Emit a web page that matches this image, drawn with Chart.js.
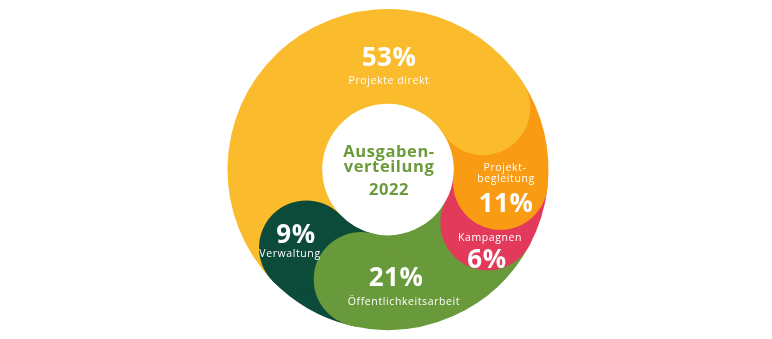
<!DOCTYPE html>
<html>
<head>
<meta charset="utf-8">
<script src="https://cdn.jsdelivr.net/npm/chart.js@4/dist/chart.umd.min.js"></script>
<style>
html,body{margin:0;padding:0;background:#fff;}
#wrap{width:772px;height:339px;position:relative;}
</style>
</head>
<body>
<div id="wrap"><canvas id="c"></canvas></div>
<script>
// ---- data ----
const categories = ["Projekte direkt", "Projektbegleitung", "Kampagnen", "Öffentlichkeitsarbeit", "Verwaltung"];
const values = [53, 11, 6, 21, 9];
const percentLabels = ["53%", "11%", "6%", "21%", "9%"];
const nameLines = [["Projekte direkt"], ["Projekt-", "begleitung"], ["Kampagnen"], ["Öffentlichkeitsarbeit"], ["Verwaltung"]];
const centerLines = ["Ausgaben-", "verteilung", "2022"];

// ---- styling / layout (not data) ----
const colors = ["#FABB2D", "#F99B13", "#E3395A", "#68993A", "#0C4A3A"];
const FONT = "'Open Sans', 'Noto Sans', sans-serif";
// label layout: offsets from chart centre (px), baselines
const labelLayout = [
  {pct:[1,-103.5], pctFirst:true, name:[[1,-85.5]]},
  {pct:[118,42.5], pctFirst:false, name:[[117,1],[118,12]]},
  {pct:[99,98], pctFirst:false, name:[[102,71.5]]},
  {pct:[8,116], pctFirst:true, name:[[16,135]]},
  {pct:[-92,73], pctFirst:true, name:[[-98,87]]}
];

const capsPlugin = {
  id: 'roundCaps',
  afterDatasetsDraw(chart) {
    const meta = chart.getDatasetMeta(0);
    const ctx = chart.ctx;
    const ds = chart.data.datasets[0];
    ctx.save();
    for (let i = meta.data.length - 1; i >= 0; i--) {
      const a = meta.data[i];
      const rMid = (a.innerRadius + a.outerRadius) / 2;
      const rCap = (a.outerRadius - a.innerRadius) / 2;
      const cx = a.x + rMid * Math.cos(a.endAngle);
      const cy = a.y + rMid * Math.sin(a.endAngle);
      ctx.beginPath();
      ctx.arc(cx, cy, rCap, 0, Math.PI * 2);
      ctx.fillStyle = ds.backgroundColor[i];
      ctx.fill();
    }
    ctx.restore();
  },
  afterDraw(chart) {
    const meta = chart.getDatasetMeta(0);
    const a0 = meta.data[0];
    const X = a0.x, Y = a0.y;
    const ctx = chart.ctx;
    ctx.save();
    ctx.textAlign = 'center';
    ctx.textBaseline = 'alphabetic';
    ctx.fillStyle = '#ffffff';
    percentLabels.forEach((p, i) => {
      const L = labelLayout[i];
      ctx.font = "bold 26px " + FONT;
      ctx.letterSpacing = '0.5px';
      ctx.fillText(p, X + L.pct[0], Y + L.pct[1]);
      ctx.font = "10.5px " + FONT;
      ctx.letterSpacing = '0.6px';
      nameLines[i].forEach((t, k) => {
        ctx.fillText(t, X + L.name[k][0], Y + L.name[k][1]);
      });
    });
    // centre title
    ctx.fillStyle = '#6B9A3B';
    ctx.font = "bold 16.5px " + FONT;
    ctx.letterSpacing = '0.6px';
    const base = [-13, 2, 25];
    centerLines.forEach((t, k) => ctx.fillText(t, X + 1, Y + base[k]));
    ctx.restore();
  }
};

new Chart(document.getElementById('c'), {
  type: 'doughnut',
  data: {
    labels: categories,
    datasets: [{
      data: values,
      backgroundColor: colors,
      borderWidth: 0,
      hoverOffset: 0
    }]
  },
  options: {
    responsive: true,
    maintainAspectRatio: false,
    animation: false,
    rotation: -133.8,
    cutout: '41%',
    layout: {padding: {top: 9, bottom: 9, left: 4, right: 0}},
    plugins: {
      legend: {display: false},
      tooltip: {enabled: false}
    },
    events: []
  },
  plugins: [capsPlugin]
});
</script>
</body>
</html>
